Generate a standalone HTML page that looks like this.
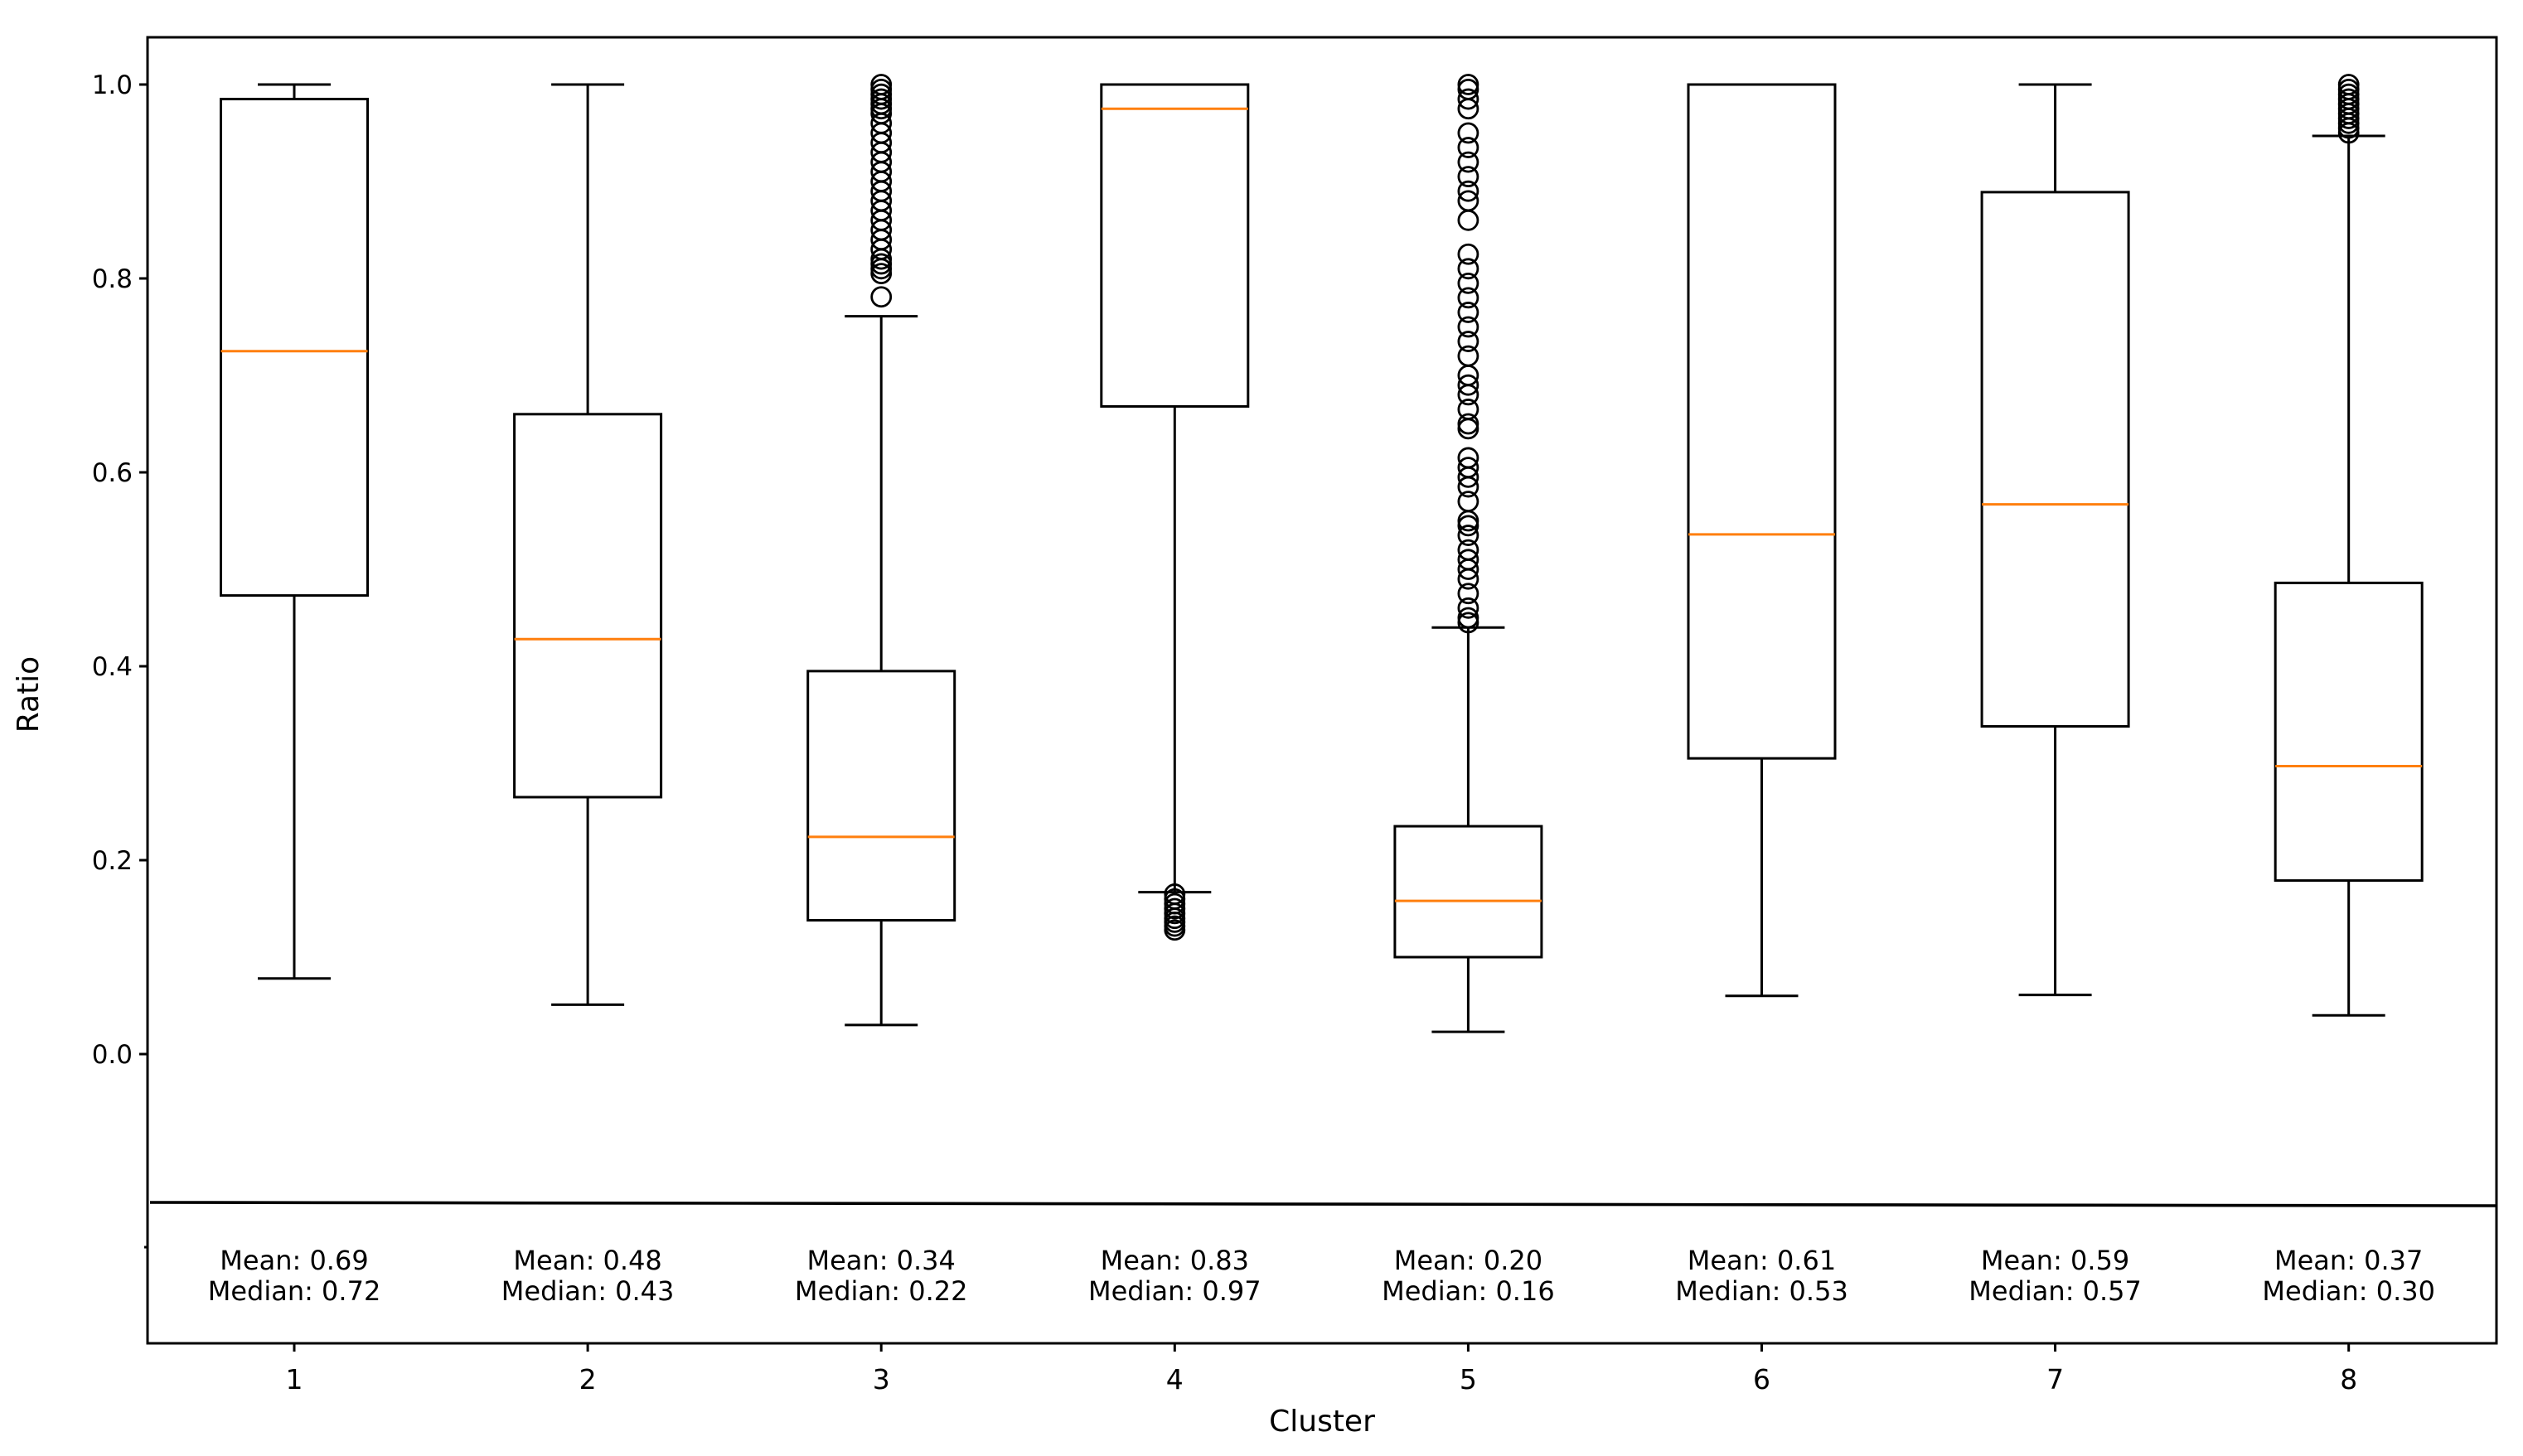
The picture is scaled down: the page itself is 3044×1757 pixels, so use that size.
<!DOCTYPE html>
<html><head><meta charset="utf-8"><style>
html,body{margin:0;padding:0;background:#fff;}
svg{display:block;font-family:"DejaVu Sans","Liberation Sans",sans-serif;}
</style></head><body>
<svg id="chart" width="3044" height="1757" viewBox="0 0 3044 1757" xmlns="http://www.w3.org/2000/svg">
<rect x="0" y="0" width="3044" height="1757" fill="#fff"/>
<g id="plot"></g>
</svg>
<script>
const categories = ["1","2","3","4","5","6","7","8"];
const whiskerLow = [0.078,0.051,0.030,0.167,0.023,0.060,0.061,0.040];
const q1 = [0.473,0.265,0.138,0.668,0.100,0.305,0.338,0.179];
const medians = [0.725,0.428,0.224,0.975,0.158,0.536,0.567,0.297];
const q3 = [0.985,0.660,0.395,1.000,0.235,1.000,0.889,0.486];
const whiskerHigh = [1.000,1.000,0.761,1.000,0.440,1.000,1.000,0.947];
const meanLabels = ["0.69","0.48","0.34","0.83","0.20","0.61","0.59","0.37"];
const medianLabels = ["0.72","0.43","0.22","0.97","0.16","0.53","0.57","0.30"];
const outliers3 = [0.781,0.805,0.81,0.815,0.82,0.83,0.84,0.85,0.86,0.87,0.88,0.89,0.90,0.91,0.92,0.93,0.94,0.95,0.96,0.97,0.975,0.98,0.985,0.99,0.995,1.0];
const outliers4 = [0.128,0.132,0.136,0.14,0.145,0.15,0.155,0.16,0.165];
const outliers5 = [0.445,0.45,0.46,0.475,0.49,0.50,0.51,0.52,0.535,0.545,0.55,0.57,0.585,0.595,0.605,0.615,0.645,0.65,0.665,0.68,0.69,0.70,0.72,0.735,0.75,0.765,0.78,0.795,0.81,0.825,0.86,0.88,0.89,0.905,0.92,0.935,0.95,0.975,0.985,0.995,1.0];
const outliers8 = [0.95,0.955,0.96,0.965,0.97,0.975,0.98,0.985,0.99,0.995,1.0];
const yTicks = [0.0,0.2,0.4,0.6,0.8,1.0];

const NS="http://www.w3.org/2000/svg";
const plotG=document.getElementById('plot');
const plotLeft=178, plotRight=3012, plotTop=45, plotBottom=1621;
const xs=i=>355+ i*354.1;
const ys=v=>1272 - v*1170;
function el(tag,attrs,parent){const e=document.createElementNS(NS,tag);for(const k in attrs)e.setAttribute(k,attrs[k]);(parent||plotG).appendChild(e);return e;}
const lw=3;

yTicks.forEach(t=>{
  const tk=el('line',{x1:plotLeft-10,x2:plotLeft,y1:ys(t),y2:ys(t),stroke:'#000','stroke-width':lw});
  
  
  const tx=el('text',{x:plotLeft-18,y:ys(t)+11,'text-anchor':'end','font-size':31,fill:'#000'});
  tx.textContent=t.toFixed(1);
  
  
});
const et=el('line',{x1:plotLeft-4,x2:plotLeft,y1:1505,y2:1505,stroke:'#000','stroke-width':lw});



const dv=el('line',{x1:plotLeft+3,x2:plotRight,y1:1451,y2:1455,stroke:'#000','stroke-width':3.6});



const outs=[[],[],outliers3,outliers4,outliers5,[],[],outliers8];
const hb=88.5, hc=44;
categories.forEach((c,i)=>{
  const x=xs(i);
  const grp=el('g',{});
  
  
  el('line',{x1:x,x2:x,y1:ys(whiskerLow[i]),y2:ys(q1[i]),stroke:'#000','stroke-width':lw},grp);
  el('line',{x1:x,x2:x,y1:ys(q3[i]),y2:ys(whiskerHigh[i]),stroke:'#000','stroke-width':lw},grp);
  el('line',{x1:x-hc,x2:x+hc,y1:ys(whiskerLow[i]),y2:ys(whiskerLow[i]),stroke:'#000','stroke-width':lw},grp);
  el('line',{x1:x-hc,x2:x+hc,y1:ys(whiskerHigh[i]),y2:ys(whiskerHigh[i]),stroke:'#000','stroke-width':lw},grp);
  el('rect',{x:x-hb,y:ys(q3[i]),width:2*hb,height:ys(q1[i])-ys(q3[i]),fill:'none',stroke:'#000','stroke-width':lw},grp);
  const md=el('line',{x1:x-hb,x2:x+hb,y1:ys(medians[i]),y2:ys(medians[i]),stroke:'#ff7f0e','stroke-width':lw},grp);
  
  
  outs[i].forEach(v=>{
    const o=el('circle',{cx:x,cy:ys(v),r:11.5,fill:'none',stroke:'#000','stroke-width':2.8},grp);
    
    
  });
  const t1=el('text',{x:x,y:1532,'text-anchor':'middle','font-size':32,fill:'#000'});
  t1.textContent='Mean: '+meanLabels[i];
  
  
  const t2=el('text',{x:x,y:1569,'text-anchor':'middle','font-size':32,fill:'#000'});
  t2.textContent='Median: '+medianLabels[i];
  
  
  const xt=el('line',{x1:x,x2:x,y1:plotBottom,y2:plotBottom+10,stroke:'#000','stroke-width':lw});
  
  
  const xl=el('text',{x:x,y:1676,'text-anchor':'middle','font-size':33,fill:'#000'});
  xl.textContent=c;
  
  
});

const fr=el('rect',{x:plotLeft,y:plotTop,width:plotRight-plotLeft,height:plotBottom-plotTop,fill:'none',stroke:'#000','stroke-width':lw});



const xtitle=el('text',{x:(plotLeft+plotRight)/2,y:1727,'text-anchor':'middle','font-size':36,fill:'#000'});
xtitle.textContent='Cluster';


const ytitle=el('text',{x:0,y:0,'text-anchor':'middle','font-size':36,fill:'#000',transform:'translate(46,838) rotate(-90)'});
ytitle.textContent='Ratio';


</script>
</body></html>
